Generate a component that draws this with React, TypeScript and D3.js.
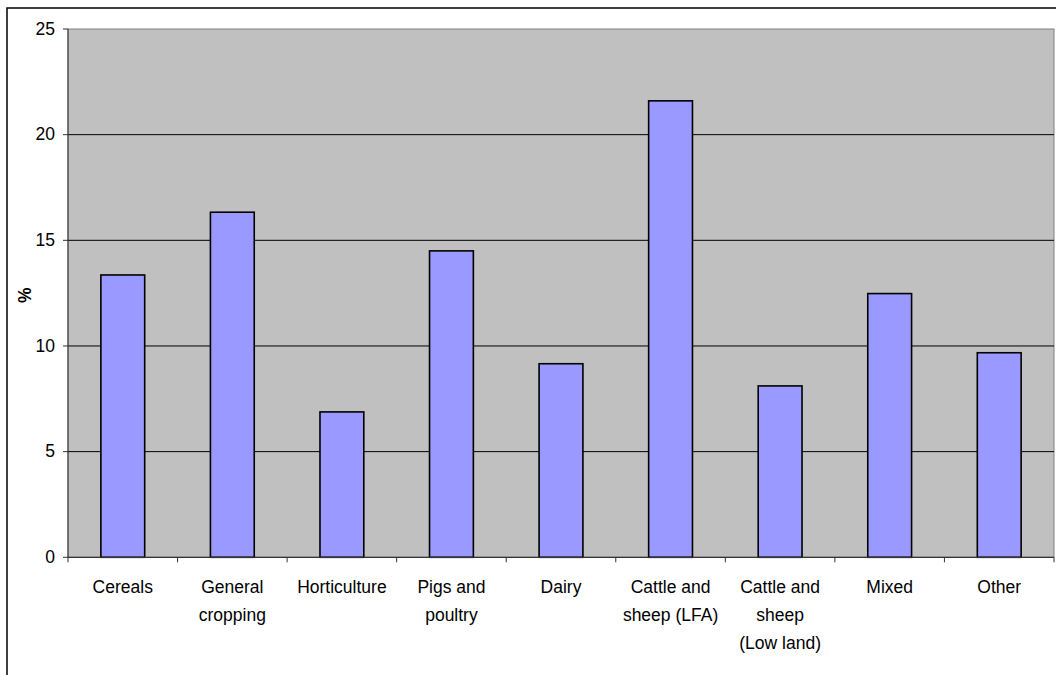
import React from "react";
import * as d3 from "d3";

const categories: string[][] = [
  ["Cereals"],
  ["General", "cropping"],
  ["Horticulture"],
  ["Pigs and", "poultry"],
  ["Dairy"],
  ["Cattle and", "sheep (LFA)"],
  ["Cattle and", "sheep", "(Low land)"],
  ["Mixed"],
  ["Other"],
];
const values: number[] = [13.36, 16.33, 6.88, 14.5, 9.16, 21.6, 8.11, 12.48, 9.68];
const yTicks: number[] = [0, 5, 10, 15, 20, 25];
const yLabel = "%";

const W = 1056;
const H = 675;
const plot = { left: 68, right: 1054, top: 29, bottom: 557.3 };
const FONT = "'Liberation Sans', Arial, Helvetica, sans-serif";

export default function App() {
  const keys = categories.map((_, i) => String(i));
  const x = d3.scaleBand<string>().domain(keys).range([plot.left, plot.right]).padding(0);
  const y = d3.scaleLinear().domain([0, 25]).range([plot.bottom, plot.top]);
  const bw = x.bandwidth() / 2.5;

  return (
    <svg
      width={W}
      height={H}
      style={{ position: "fixed", left: 0, top: 0, background: "#fff" }}
      fontFamily={FONT}
    >
      <rect x={7} y={8} width={W + 20} height={H + 20} fill="#fff" stroke="#000" strokeWidth={1.5} />
      <rect
        x={plot.left}
        y={plot.top}
        width={plot.right - plot.left}
        height={plot.bottom - plot.top}
        fill="#C0C0C0"
        stroke="#808080"
        strokeWidth={1}
      />
      {yTicks.filter((t) => t > 0 && t < 25).map((t) => (
        <line key={"g" + t} x1={plot.left} x2={plot.right} y1={y(t)} y2={y(t)} stroke="#000" strokeWidth={1} />
      ))}
      {values.map((v, i) => {
        const cx = (x(keys[i]) as number) + x.bandwidth() / 2;
        return (
          <rect
            key={"b" + i}
            x={cx - bw / 2}
            y={y(v)}
            width={bw}
            height={y(0) - y(v)}
            fill="#9999FF"
            stroke="#000"
            strokeWidth={1.6}
          />
        );
      })}
      <line x1={plot.left} x2={plot.left} y1={plot.top} y2={plot.bottom + 5} stroke="#333" strokeWidth={1} />
      <line x1={plot.left} x2={plot.right} y1={plot.bottom} y2={plot.bottom} stroke="#333" strokeWidth={1.3} />
      {yTicks.map((t) => (
        <g key={"t" + t}>
          <line x1={plot.left - 5} x2={plot.left} y1={y(t)} y2={y(t)} stroke="#333" strokeWidth={1} />
          <text x={55} y={y(t)} dy="0.33em" textAnchor="end" fontSize={17.5} fill="#000">
            {t}
          </text>
        </g>
      ))}
      {keys.map((k, i) => {
        const bx = (x(k) as number) + x.bandwidth();
        return <line key={"xt" + i} x1={bx} x2={bx} y1={plot.bottom} y2={plot.bottom + 5} stroke="#333" strokeWidth={1} />;
      })}
      {categories.map((lines, i) => {
        const cx = (x(keys[i]) as number) + x.bandwidth() / 2;
        return (
          <text key={"c" + i} x={cx} y={593} textAnchor="middle" fontSize={17.5} fill="#000">
            {lines.map((l, j) => (
              <tspan key={j} x={cx} y={593 + j * 28}>
                {l}
              </tspan>
            ))}
          </text>
        );
      })}
      <text
        transform={`translate(31, ${(plot.top + plot.bottom) / 2 + 2}) rotate(-90)`}
        textAnchor="middle"
        fontSize={17.5}
        fontWeight="bold"
        fill="#000"
      >
        {yLabel}
      </text>
    </svg>
  );
}
